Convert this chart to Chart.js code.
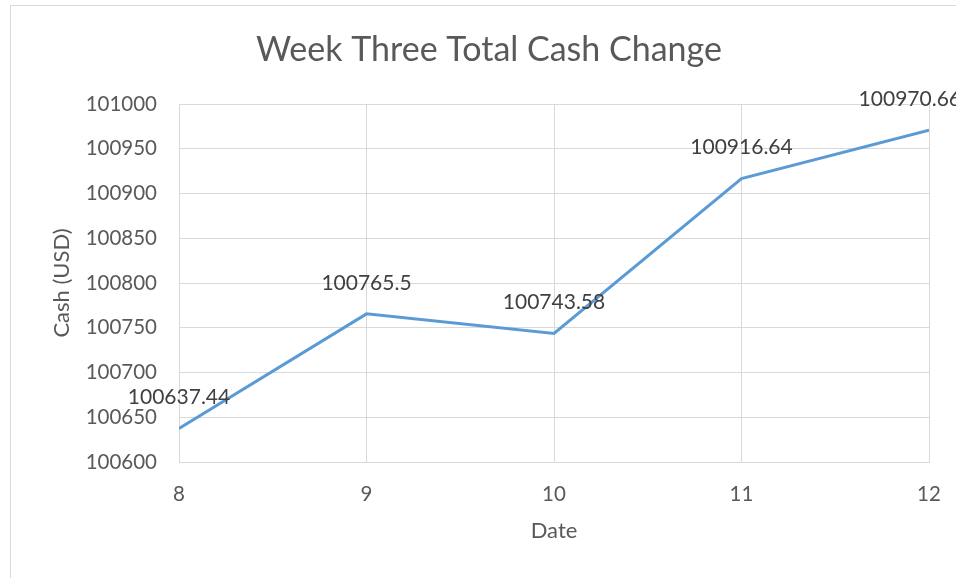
<!DOCTYPE html>
<html><head><meta charset="utf-8">
<script src="https://cdn.jsdelivr.net/npm/chart.js@4"></script>
<style>html,body{margin:0;padding:0;background:#fff;}#wrap{width:956px;height:578px;position:relative;}</style>
</head><body><div id="wrap"><canvas id="c" width="956" height="578"></canvas></div>
<script>
const dates = [8, 9, 10, 11, 12];
const cash = [100637.44, 100765.5, 100743.58, 100916.64, 100970.66];
const pointLabels = ["100637.44", "100765.5", "100743.58", "100916.64", "100970.66"];
const titleText = "Week Three Total Cash Change";
const xTitle = "Date";
const yTitle = "Cash (USD)";

const FONT = "Lato, 'Open Sans', sans-serif";

const decorPlugin = {
  id: 'decor',
  beforeDraw(chart) {
    const ctx = chart.ctx;
    ctx.save();
    ctx.fillStyle = '#fff';
    ctx.fillRect(0, 0, chart.width, chart.height);
    ctx.strokeStyle = '#d9d9d9';
    ctx.lineWidth = 1;
    ctx.strokeRect(10.5, 5.5, 2000, 2000);
    ctx.font = "34px " + FONT;
    ctx.fillStyle = '#595959';
    ctx.textAlign = 'center';
    ctx.textBaseline = 'middle';
    ctx.fillText(titleText, 489, 50);
    ctx.restore();
  }
};
const labelPlugin = {
  id: 'pointLabels',
  afterDatasetsDraw(chart) {
    const ctx = chart.ctx;
    const meta = chart.getDatasetMeta(0);
    ctx.save();
    ctx.font = "21px " + FONT;
    ctx.fillStyle = '#404040';
    ctx.textAlign = 'center';
    ctx.textBaseline = 'middle';
    meta.data.forEach((pt, i) => {
      const w = ctx.measureText(pointLabels[i]).width;
      let x = pt.x;
      const maxRight = chart.width + 5;
      if (x + w / 2 > maxRight) x = maxRight - w / 2;
      ctx.fillText(pointLabels[i], x, pt.y - 31);
    });
    ctx.restore();
  }
};

new Chart(document.getElementById('c'), {
  type: 'line',
  data: {
    datasets: [{
      data: dates.map((d, i) => ({x: d, y: cash[i]})),
      borderColor: '#5B9BD5',
      borderWidth: 3,
      pointRadius: 0,
      tension: 0,
      fill: false
    }]
  },
  options: {
    responsive: false,
    animation: false,
    layout: {padding: {left: 0, right: 27, top: 104, bottom: 0}},
    plugins: {
      legend: {display: false},
      tooltip: {enabled: false},
      title: {display: false}
    },
    scales: {
      x: {
        type: 'linear', min: 8, max: 12,
        ticks: {stepSize: 1, color: '#595959', font: {family: FONT, size: 20.5}, padding: 20, maxRotation: 0,
          callback: v => String(v)},
        grid: {color: '#d9d9d9', drawTicks: false, lineWidth: 1},
        border: {color: '#d9d9d9'},
        title: {display: true, text: xTitle, color: '#595959', font: {family: FONT, size: 22}, padding: {top: 12, bottom: 34}},
        afterFit(s) { s.height = 116; s.paddingLeft = 0; s.paddingRight = 0; }
      },
      y: {
        min: 100600, max: 101000,
        ticks: {stepSize: 50, color: '#595959', font: {family: FONT, size: 20.5}, padding: 22,
          callback: v => String(v)},
        grid: {color: '#d9d9d9', drawTicks: false, lineWidth: 1},
        border: {color: '#d9d9d9'},
        title: {display: true, text: yTitle, color: '#595959', font: {family: FONT, size: 22}, padding: {top: 49, bottom: 0}},
        afterFit(s) { s.width = 179; s.paddingTop = 0; s.paddingBottom = 0; }
      }
    }
  },
  plugins: [decorPlugin, labelPlugin]
});
</script></body></html>
